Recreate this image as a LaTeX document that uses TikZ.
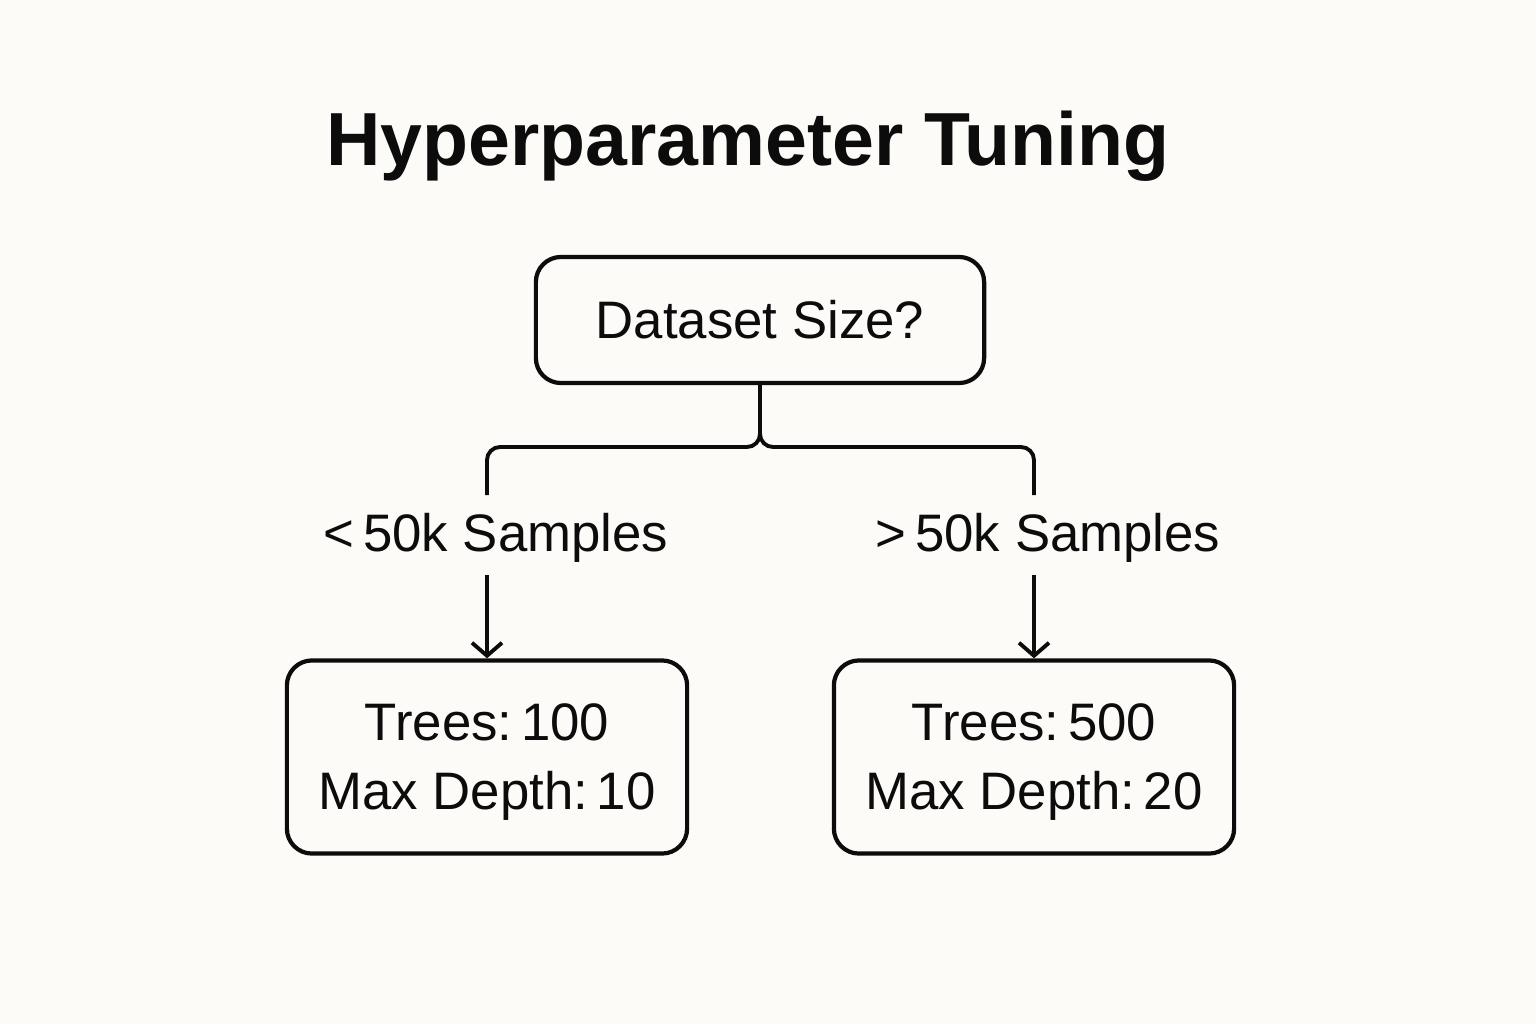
\documentclass[tikz,border=0pt]{standalone}
\usepackage{fontspec}
\setmainfont{Liberation Sans}
\usepackage{tikz}
\usetikzlibrary{arrows.meta, positioning, calc}

\definecolor{paper}{HTML}{FCFBF8}
\definecolor{ink}{HTML}{0C0C0C}

\begin{document}
\begin{tikzpicture}[x=0.01cm, y=-0.01cm,
    box/.style={draw=ink, line width=1.2pt, rounded corners=0.25cm, align=center, text=ink, inner sep=0pt},
    leaf/.style={box, minimum width=4cm, minimum height=1.93cm, text depth=0pt, font=\fontsize{15pt}{19.6pt}\selectfont},
    conn/.style={draw=ink, line width=1.1pt, rounded corners=0.13cm},
    branch/.style={text=ink, font=\fontsize{15pt}{18pt}\selectfont},
    >={Straight Barb[length=0.13cm, width=0.3cm]}]
            \useasboundingbox[fill=paper] (0,0) rectangle (1536,1024);

            % Title
            \node[text=ink, font=\fontsize{21.4pt}{25pt}\selectfont\bfseries] (title) at (748,146) {Hyperparameter Tuning};

            % Question
            \node[box, minimum width=4.48cm, minimum height=1.26cm, font=\fontsize{15pt}{18pt}\selectfont] (size) at (760,320) {Dataset Size?};

            % Answers
            \node[leaf] (small) at (487,757) {Trees:\,100\\Max Depth:\,10};
            \node[leaf] (large) at (1034,757) {Trees:\,500\\Max Depth:\,20};

            % Branch labels
            \node[branch] (smalllab) at (496,538) {<\,50k Samples};
            \node[branch] (largelab) at (1048,538) {>\,50k Samples};

            \coordinate (split) at (762,447);
            \coordinate (smalldrop) at (487,495);
            \coordinate (largedrop) at (1034,495);
            \coordinate (smalltail) at (487,575);
            \coordinate (largetail) at (1034,575);

            % Connectors
            \draw[conn] (size.south) -- (size.south |- split) -| (smalldrop);
            \draw[conn] (size.south) -- (size.south |- split) -| (largedrop);
            \draw[conn, ->] (smalltail) -- (small.north);
            \draw[conn, ->] (largetail) -- (large.north);
        \end{tikzpicture}
\end{document}
